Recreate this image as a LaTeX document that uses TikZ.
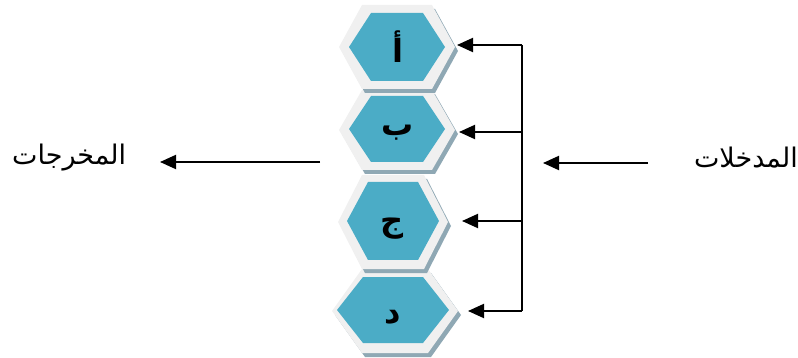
\documentclass[tikz,border=0pt]{standalone}
\usepackage{fontspec}
\usetikzlibrary{arrows.meta}
\TeXXeTstate=1
\newfontfamily\arabicfont[Script=Arabic]{DejaVu Sans}
\definecolor{hexfill}{HTML}{4BACC6}
\definecolor{hexrim}{HTML}{F0F0F0}
\definecolor{hexshade}{HTML}{8FA8B4}

% flat-topped hexagon: colour, centre x, centre y, half width, half height, half top edge
\newcommand\hexshape[6]{%
  \fill[#1] ({#2-#4},{#3}) -- ({#2-#6},{#3-#5}) -- ({#2+#6},{#3-#5}) --
    ({#2+#4},{#3}) -- ({#2+#6},{#3+#5}) -- ({#2-#6},{#3+#5}) -- cycle;}

\begin{document}
\begin{tikzpicture}[x=1pt,y=-1pt,
  letter/.style={font=\arabicfont\bfseries\fontsize{32}{36}\selectfont, inner sep=0pt},
  caption/.style={font=\arabicfont\fontsize{27}{30}\selectfont, inner sep=0pt},
  feed/.style={line width=2pt, -{Triangle[length=16pt,width=14pt]}},
  bus/.style={line width=2pt}]
\useasboundingbox (0,0) rectangle (798,358);

% cell 4
\hexshape{hexshade}{398}{315}{63}{42}{33}
\hexshape{hexrim}{395}{311}{63}{42}{33}
\hexshape{hexfill}{393}{310}{56}{33}{30}
\node[letter] (d) at (393,317) {\beginR د\endR};
\coordinate (d-tip) at (468,311);

% cell 3
\hexshape{hexshade}{396}{226}{55}{47}{31}
\hexshape{hexrim}{393}{222}{55}{47}{31}
\hexshape{hexfill}{393}{221}{46}{39}{25}
\node[letter] (c) at (392,229) {\beginR ج\endR};
\coordinate (c-tip) at (462,221);

% cell 2
\hexshape{hexshade}{400}{134}{58}{40}{35}
\hexshape{hexrim}{397}{130}{58}{40}{35}
\hexshape{hexfill}{397}{129}{48}{33}{26}
\node[letter] (b) at (398,133) {\beginR ب\endR};
\coordinate (b-tip) at (459,132);

% cell 1
\hexshape{hexshade}{400}{51}{58}{42}{35}
\hexshape{hexrim}{397}{47}{58}{42}{35}
\hexshape{hexfill}{397}{47}{48}{34}{26}
\node[letter] (a) at (398,47) {\beginR أ\endR};
\coordinate (a-tip) at (457,45);

% distribution bus on the right
\coordinate (bus1) at (522,45);
\coordinate (bus2) at (522,132);
\coordinate (bus3) at (522,221);
\coordinate (bus4) at (522,311);
\draw[bus] (bus1) -- (bus4);
\draw[feed] (bus1) -- (a-tip);
\draw[feed] (bus2) -- (b-tip);
\draw[feed] (bus3) -- (c-tip);
\draw[feed] (bus4) -- (d-tip);

% inputs
\node[caption, anchor=east] (inputs) at (798,158) {\beginR المدخلات\endR};
\coordinate (in-start) at (648,163);
\coordinate (in-end) at (543,163);
\draw[feed] (in-start) -- (in-end);

% outputs
\node[caption, anchor=west] (outputs) at (12,158) {\beginR المخرجات\endR};
\coordinate (out-start) at (320,162);
\coordinate (out-end) at (160,162);
\draw[feed] (out-start) -- (out-end);
\end{tikzpicture}
\end{document}
